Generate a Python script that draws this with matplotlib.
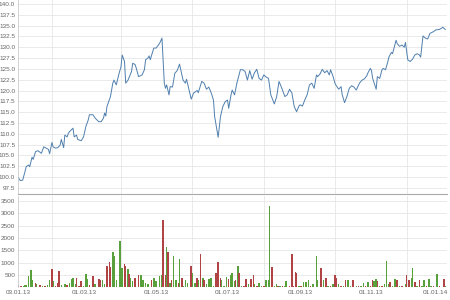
import numpy as np
import matplotlib
matplotlib.use("Agg")
import matplotlib.pyplot as plt
import matplotlib.dates as mdates
from matplotlib.transforms import ScaledTranslation

plt.rcParams["font.family"] = ["Liberation Sans Narrow", "Liberation Sans", "DejaVu Sans"]

START = np.datetime64("2013-01-03")

# closing price, sampled from the chart (days since START)
price_days = [
    0, 2, 4, 6, 7, 9, 10, 12, 13, 15,
    17, 19, 20, 22, 24, 26, 27, 29, 30, 32,
    34, 36, 37, 39, 40, 42, 43, 44, 47, 48,
    50, 51, 54, 56, 58, 60, 61, 64, 66, 69,
    71, 73, 74, 75, 76, 78, 79, 81, 82, 84,
    86, 88, 89, 91, 92, 94, 97, 98, 100, 101,
    103, 106, 108, 109, 111, 112, 113, 116, 118, 121,
    123, 124, 125, 126, 127, 129, 130, 132, 134, 136,
    138, 141, 143, 144, 146, 148, 150, 153, 154, 157,
    159, 161, 163, 165, 167, 168, 171, 173, 175, 177,
    179, 180, 182, 183, 185, 187, 190, 192, 194, 196,
    198, 200, 202, 204, 206, 208, 210, 212, 214, 216,
    219, 221, 223, 225, 228, 230, 232, 234, 236, 238,
    240, 241, 243, 245, 247, 249, 251, 253, 255, 256,
    258, 260, 262, 264, 266, 267, 269, 271, 274, 276,
    277, 279, 281, 283, 285, 287, 289, 291, 292, 294,
    296, 298, 299, 301, 302, 303, 306, 307, 309, 311,
    312, 314, 316, 317, 319, 320, 323, 324, 326, 328,
    330, 331, 333, 335, 337, 339, 341, 343, 344, 346,
    348, 350, 352, 355, 357, 360, 363, 365,
]
price_vals = [
    100.0, 99.2, 99.3, 101.3, 102.4, 102.8, 102.4, 104.6, 104.1, 105.9,
    106.1, 105.7, 105.5, 107.0, 106.7, 106.4, 105.4, 108.0, 107.0, 106.7,
    106.8, 107.4, 108.7, 106.8, 109.7, 109.3, 110.1, 110.5, 111.3, 109.3,
    109.7, 108.7, 108.4, 109.3, 111.7, 113.2, 114.4, 114.4, 113.6, 112.8,
    112.8, 113.6, 114.8, 114.1, 116.3, 117.8, 118.6, 121.7, 122.4, 121.3,
    123.6, 125.5, 128.2, 126.7, 121.7, 122.4, 124.4, 126.3, 126.0, 125.2,
    123.2, 123.6, 124.8, 127.1, 127.5, 128.0, 127.1, 129.8, 129.8, 130.9,
    132.1, 127.1, 121.7, 120.5, 121.3, 119.0, 120.9, 120.8, 124.0, 124.6,
    126.1, 122.4, 121.7, 122.6, 120.3, 118.0, 119.4, 120.0, 119.5, 122.1,
    121.7, 120.3, 120.8, 119.5, 117.8, 114.0, 109.2, 114.0, 116.3, 117.4,
    117.8, 115.9, 119.0, 120.1, 119.0, 121.7, 124.8, 124.8, 124.4, 122.4,
    124.6, 122.6, 124.1, 124.9, 122.8, 122.4, 123.6, 123.1, 122.8, 119.0,
    116.9, 118.6, 122.1, 120.8, 118.6, 119.0, 120.3, 119.4, 116.3, 115.1,
    116.4, 116.7, 116.4, 117.8, 119.0, 121.3, 121.7, 120.5, 123.6, 123.2,
    123.8, 124.9, 124.1, 124.6, 123.6, 124.8, 123.4, 121.5, 120.3, 120.9,
    119.0, 117.2, 118.6, 120.5, 121.1, 120.8, 120.1, 121.3, 121.8, 122.4,
    122.7, 123.4, 124.1, 125.1, 124.6, 122.8, 120.3, 123.2, 122.8, 124.8,
    125.1, 124.8, 126.7, 127.8, 128.8, 128.5, 131.6, 130.8, 130.2, 130.5,
    130.0, 131.1, 127.1, 126.7, 127.2, 128.2, 128.5, 128.2, 127.7, 132.6,
    132.1, 131.9, 133.2, 133.6, 134.0, 134.1, 134.6, 134.1,
]

# traded volume (days since START), up = 1 for a rising day
vol_days = [
    0, 2, 3, 5, 6, 7, 9, 11, 12, 15,
    16, 19, 21, 23, 25, 27, 29, 30, 32, 34,
    35, 37, 40, 42, 44, 46, 47, 49, 50, 52,
    54, 56, 58, 59, 61, 64, 66, 69, 70, 72,
    74, 76, 78, 79, 81, 82, 84, 87, 89, 91,
    92, 94, 95, 96, 98, 100, 103, 105, 107, 109,
    111, 114, 116, 118, 121, 123, 124, 126, 127, 128,
    130, 131, 133, 135, 137, 138, 140, 141, 143, 145,
    148, 149, 151, 153, 154, 156, 158, 159, 161, 163,
    165, 167, 169, 171, 173, 174, 176, 178, 180, 182,
    183, 185, 186, 188, 189, 191, 193, 195, 197, 199,
    201, 202, 204, 206, 208, 210, 212, 214, 215, 217,
    219, 221, 222, 224, 226, 228, 229, 232, 234, 235,
    237, 238, 240, 242, 244, 246, 248, 250, 252, 255,
    256, 259, 261, 263, 265, 267, 269, 271, 272, 274,
    276, 278, 280, 282, 284, 286, 289, 291, 293, 295,
    297, 299, 301, 303, 304, 306, 307, 309, 311, 313,
    315, 317, 318, 320, 322, 324, 326, 328, 331, 332,
    334, 336, 337, 339, 341, 343, 345, 347, 349, 351,
    353, 355, 358, 360, 364, 365,
]
vol_vals = [
    100, 60, 60, 80, 100, 120, 460, 700, 300, 170,
    150, 100, 80, 60, 100, 300, 730, 250, 80, 200,
    670, 100, 150, 100, 200, 360, 400, 150, 400, 80,
    250, 60, 540, 360, 100, 460, 150, 340, 320, 300,
    150, 860, 1040, 830, 1440, 1270, 300, 1875, 780, 970,
    860, 730, 540, 400, 250, 400, 500, 500, 300, 200,
    150, 300, 400, 250, 460, 500, 2725, 500, 1645, 1440,
    200, 300, 1270, 300, 200, 1170, 400, 80, 300, 200,
    860, 570, 200, 400, 300, 1350, 400, 300, 150, 360,
    400, 80, 570, 1040, 400, 300, 80, 430, 360, 500,
    570, 250, 300, 860, 570, 80, 80, 360, 150, 360,
    500, 150, 80, 200, 60, 80, 300, 320, 3290, 830,
    80, 150, 80, 60, 80, 60, 250, 60, 1350, 80,
    630, 570, 60, 60, 230, 230, 300, 80, 150, 1270,
    300, 770, 300, 400, 60, 60, 150, 500, 400, 150,
    80, 60, 300, 300, 80, 320, 60, 60, 60, 200,
    60, 230, 60, 300, 280, 330, 280, 80, 60, 150,
    1080, 150, 230, 60, 360, 300, 60, 60, 150, 500,
    300, 400, 770, 230, 80, 300, 60, 300, 60, 360,
    60, 80, 540, 60, 360, 80,
]
vol_up = [
    0, 0, 0, 1, 1, 1, 1, 1, 1, 0,
    1, 0, 1, 0, 1, 1, 0, 1, 0, 0,
    0, 1, 1, 0, 1, 1, 1, 1, 0, 0,
    0, 1, 1, 1, 0, 0, 1, 0, 0, 1,
    1, 0, 0, 0, 1, 1, 1, 1, 1, 0,
    0, 1, 0, 1, 1, 0, 0, 1, 1, 1,
    1, 0, 1, 1, 1, 1, 0, 0, 1, 0,
    1, 0, 1, 1, 0, 1, 0, 1, 1, 1,
    0, 1, 1, 0, 1, 0, 1, 0, 1, 1,
    1, 1, 0, 0, 0, 1, 1, 1, 0, 1,
    1, 1, 0, 1, 0, 1, 0, 0, 1, 0,
    0, 1, 0, 1, 1, 0, 1, 1, 1, 0,
    1, 1, 0, 1, 0, 1, 1, 0, 0, 0,
    0, 0, 1, 0, 1, 1, 1, 0, 1, 1,
    1, 0, 1, 0, 1, 0, 1, 0, 0, 1,
    0, 1, 0, 1, 1, 0, 1, 0, 1, 1,
    0, 1, 0, 0, 1, 1, 0, 1, 0, 1,
    1, 1, 0, 1, 1, 0, 1, 0, 1, 0,
    0, 1, 1, 0, 1, 0, 1, 1, 0, 1,
    1, 0, 1, 0, 0, 1,
]

price_ticks = [97.5, 100.0, 102.5, 105.0, 107.5, 110.0, 112.5, 115.0, 117.5,
               120.0, 122.5, 125.0, 127.5, 130.0, 132.5, 135.0, 137.5, 140.0]
vol_ticks = [500, 1000, 1500, 2000, 2500, 3000, 3500]
date_ticks = ["2013-01-03", "2013-03-01", "2013-05-01", "2013-07-01",
              "2013-09-01", "2013-11-01", "2014-01-01"]

TEXT = "#666666"
GRID = "#e6e6e6"


def style_axis(ax):
    for side in ["top", "right", "bottom"]:
        ax.spines[side].set_visible(False)
    ax.spines["left"].set_color("#cccccc")
    ax.spines["left"].set_linewidth(0.6)
    ax.tick_params(axis="both", length=0, pad=2, labelsize=4.6, labelcolor=TEXT)
    ax.xaxis.set_minor_locator(mdates.MonthLocator())
    ax.tick_params(axis="x", which="minor", length=0)
    ax.grid(axis="y", color=GRID, linewidth=0.6)
    ax.grid(axis="x", which="minor", color=GRID, linewidth=0.6)
    ax.set_axisbelow(True)


def main():
    p_dates = START + np.array(price_days).astype("timedelta64[D]")
    v_dates = START + np.array(vol_days).astype("timedelta64[D]")
    vals = np.array(vol_vals)
    up = np.array(vol_up, dtype=bool)
    x_lo = START
    x_hi = np.datetime64("2014-01-04T12:00")

    fig = plt.figure(figsize=(4.5, 3.0), dpi=100)
    ax_p = fig.add_axes([0.04, 0.3533, 0.9533, 0.6467])
    ax_v = fig.add_axes([0.04, 0.0417, 0.9533, 0.305])

    # price line
    ax_p.plot(p_dates, price_vals, color="#4f7fae", linewidth=0.7)
    ax_p.set_ylim(96.1, 140.9)
    ax_p.set_yticks(price_ticks)
    ax_p.set_yticklabels([f"{t:.1f}" for t in price_ticks])
    style_axis(ax_p)
    ax_p.spines["bottom"].set_visible(True)
    ax_p.spines["bottom"].set_color("#aaaaaa")
    ax_p.spines["bottom"].set_linewidth(0.8)
    ax_p.set_xlim(x_lo, x_hi)
    ax_p.set_xticks([np.datetime64(d) for d in date_ticks])
    ax_p.tick_params(axis="x", labelbottom=False)

    # volume bars
    ax_v.bar(v_dates[up], vals[up], width=1.3, color="#58a03c", linewidth=0)
    ax_v.bar(v_dates[~up], vals[~up], width=1.3, color="#b04444", linewidth=0)
    ax_v.set_ylim(0, 3700)
    ax_v.set_yticks(vol_ticks)
    style_axis(ax_v)
    ax_v.set_xlim(x_lo, x_hi)
    ax_v.set_xticks([np.datetime64(d) for d in date_ticks])
    ax_v.xaxis.set_major_formatter(mdates.DateFormatter("%d.%m.%y"))

    fig.canvas.draw()
    last = ax_v.get_xticklabels()[-1]
    last.set_horizontalalignment("right")
    last.set_transform(last.get_transform() + ScaledTranslation(0.05, 0, fig.dpi_scale_trans))

    fig.savefig("out.png", dpi=100)


if __name__ == "__main__":
    main()
